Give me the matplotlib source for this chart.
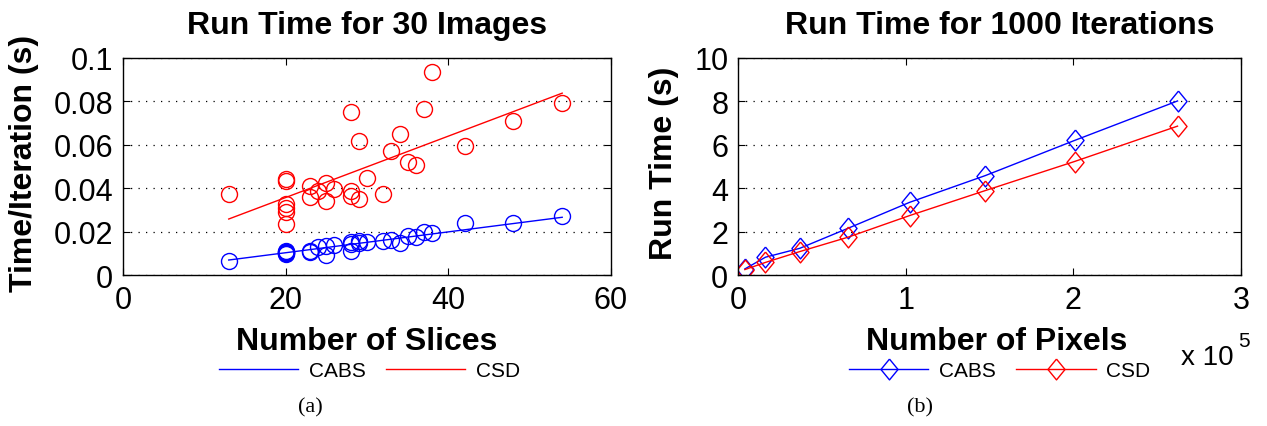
import matplotlib
matplotlib.use("Agg")
import matplotlib.pyplot as plt
import numpy as np

SANS = "Liberation Sans"
SERIF = "Liberation Serif"

# ---- Panel (a) data ----
slices = [13, 20, 20, 20, 20, 20, 20, 23, 23, 24, 25, 25, 26, 28, 28, 28,
          29, 29, 30, 32, 33, 34, 35, 36, 37, 38, 42, 48, 54]
csd_a = [0.0374, 0.0443, 0.0431, 0.0328, 0.0308, 0.0289, 0.0235, 0.0408, 0.0358,
         0.0385, 0.0425, 0.0343, 0.0397, 0.0751, 0.0385, 0.0366, 0.0617, 0.0351,
         0.0448, 0.0371, 0.0571, 0.0651, 0.0523, 0.0505, 0.0763, 0.0935, 0.0594,
         0.0709, 0.0792]
cabs_a = [0.0066, 0.0112, 0.0105, 0.0100, 0.0097, 0.0102, 0.0108, 0.0112, 0.0108,
          0.0128, 0.0132, 0.0092, 0.0138, 0.0154, 0.0112, 0.0143, 0.0158, 0.0148,
          0.0154, 0.0158, 0.0163, 0.0148, 0.0182, 0.0174, 0.0197, 0.0192, 0.0238,
          0.0240, 0.0271]
fit_x = [13, 54]
fit_cabs = [0.0069, 0.0266]
fit_csd = [0.0258, 0.0838]

# ---- Panel (b) data ----
pixels = [4096, 16384, 36864, 65536, 102400, 147456, 200704, 262144]
cabs_b = [0.28, 0.82, 1.23, 2.15, 3.35, 4.58, 6.20, 8.02]
csd_b = [0.25, 0.58, 1.08, 1.74, 2.74, 3.89, 5.23, 6.86]

W, H = 1267, 427
fig = plt.figure(figsize=(W / 100, H / 100), dpi=100)

blue = "#0000ff"
red = "#ff0000"
diamond = [(0, 1), (0.82, 0), (0, -1), (-0.82, 0), (0, 1)]


def style_axes(ax):
    ax.tick_params(direction="in", length=5, width=0.8, top=True, right=True,
                   labelsize=22)
    ax.tick_params(axis="x", pad=7)
    ax.tick_params(axis="y", pad=7)
    for lab in ax.get_xticklabels() + ax.get_yticklabels():
        lab.set_fontfamily(SANS)
    for s in ax.spines.values():
        s.set_linewidth(1.0)
    ax.yaxis.grid(True, linestyle=(0, (1, 5)), color="black", linewidth=0.9)
    ax.set_axisbelow(True)


# ---- Left axes ----
ax1 = fig.add_axes([123 / W, 1 - 276 / H, 488 / W, 217 / H])
ax1.plot(slices, cabs_a, linestyle="none", marker="o", markersize=11.5,
         markerfacecolor="none", markeredgecolor=blue, markeredgewidth=1.0)
ax1.plot(slices, csd_a, linestyle="none", marker="o", markersize=11.5,
         markerfacecolor="none", markeredgecolor=red, markeredgewidth=1.0)
l1, = ax1.plot(fit_x, fit_cabs, color=blue, linewidth=1.0, label="CABS")
l2, = ax1.plot(fit_x, fit_csd, color=red, linewidth=1.0, label="CSD")
ax1.set_xlim(0, 60)
ax1.set_ylim(0, 0.1)
ax1.set_xticks([0, 20, 40, 60])
ax1.set_yticks([0, 0.02, 0.04, 0.06, 0.08, 0.1])
ax1.set_yticklabels(["0", "0.02", "0.04", "0.06", "0.08", "0.1"])
style_axes(ax1)
ax1.set_title("Run Time for 30 Images", fontsize=23, fontweight="bold",
              fontfamily=SANS, pad=18)
ax1.set_xlabel("Number of Slices", fontsize=23, fontweight="bold",
               fontfamily=SANS)
ax1.xaxis.set_label_coords(0.5, -0.235)
ax1.set_ylabel("Time/Iteration (s)", fontsize=23, fontweight="bold",
               fontfamily=SANS, va="center")
ax1.yaxis.set_label_coords((24 - 123) / 488, 0.52)
ax1.legend(handles=[l1, l2], loc="upper center", bbox_to_anchor=(0.505, -0.31),
           ncol=2, frameon=False, prop={"family": SANS, "size": 15},
           handlelength=3.8, columnspacing=1.0, handletextpad=0.5)

# ---- Right axes ----
ax2 = fig.add_axes([738 / W, 1 - 276 / H, 503 / W, 217 / H])
pix_scaled = np.array(pixels) / 1e5
m1, = ax2.plot(pix_scaled, cabs_b, color=blue, linewidth=1.0, marker=diamond,
               markersize=15, markerfacecolor="none", markeredgecolor=blue,
               markeredgewidth=1.0, label="CABS")
m2, = ax2.plot(pix_scaled, csd_b, color=red, linewidth=1.0, marker=diamond,
               markersize=15, markerfacecolor="none", markeredgecolor=red,
               markeredgewidth=1.0, label="CSD")
ax2.set_xlim(0, 3)
ax2.set_ylim(0, 10)
ax2.set_xticks([0, 1, 2, 3])
ax2.set_yticks([0, 2, 4, 6, 8, 10])
style_axes(ax2)
ax2.set_title("Run Time for 1000 Iterations", fontsize=23, fontweight="bold",
              fontfamily=SANS, pad=18, x=0.52)
ax2.set_xlabel("Number of Pixels", fontsize=23, fontweight="bold",
               fontfamily=SANS)
ax2.xaxis.set_label_coords(0.514, -0.235)
ax2.set_ylabel("Run Time (s)", fontsize=23, fontweight="bold",
               fontfamily=SANS, va="center")
ax2.yaxis.set_label_coords((664 - 738) / 503, 0.52)
ax2.legend(handles=[m1, m2], loc="upper center", bbox_to_anchor=(0.52, -0.31),
           ncol=2, frameon=False, prop={"family": SANS, "size": 15},
           handlelength=3.8, columnspacing=1.0, handletextpad=0.5)

fig.text(1181 / W, 1 - 365 / H, "x 10", fontsize=20, fontfamily=SANS,
         ha="left", va="baseline")
fig.text(1238 / W, 1 - 347 / H, "5", fontsize=15, fontfamily=SANS,
         ha="left", va="baseline")

fig.text(310 / W, 1 - 408 / H, "(a)", fontsize=16, fontfamily=SERIF,
         ha="center", va="center")
fig.text(920 / W, 1 - 408 / H, "(b)", fontsize=16, fontfamily=SERIF,
         ha="center", va="center")

fig.savefig("out.png", dpi=100)
